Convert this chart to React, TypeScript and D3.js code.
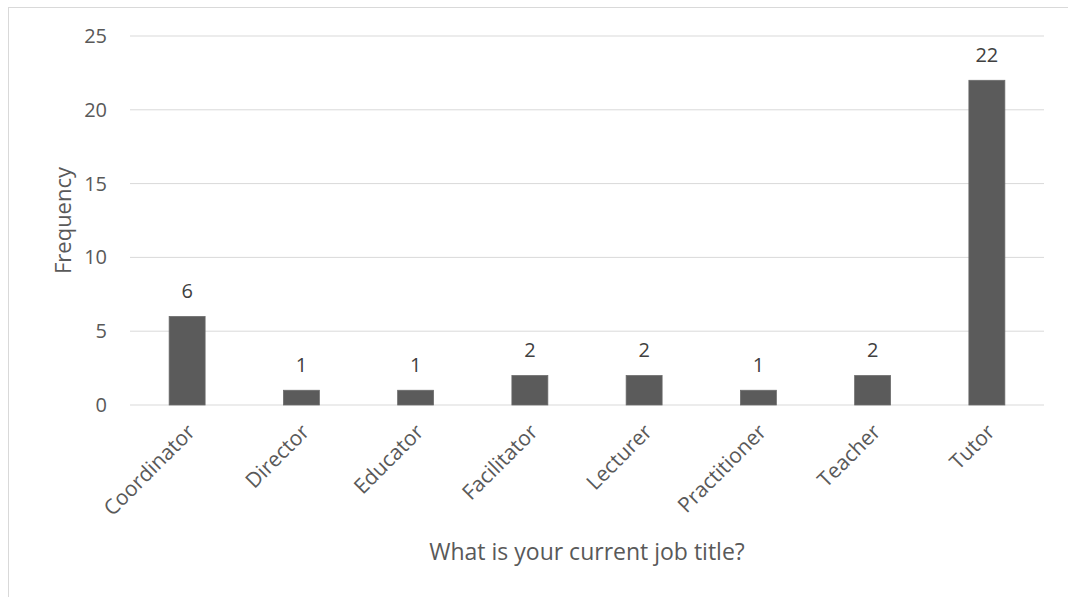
import React from "react";
import * as d3 from "d3";

const categories = ["Coordinator", "Director", "Educator", "Facilitator", "Lecturer", "Practitioner", "Teacher", "Tutor"];
const frequencies = [6, 1, 1, 2, 2, 1, 2, 22];
const yTicks = [0, 5, 10, 15, 20, 25];

const W = 1068;
const H = 597;
const margin = { left: 130, right: 24, top: 36, bottom: 192 };
const FONT = "'Open Sans', 'Noto Sans', sans-serif";

export default function App() {
  const x = d3
    .scaleBand<string>()
    .domain(categories)
    .range([margin.left, W - margin.right])
    .paddingInner(0.685)
    .paddingOuter(0.3425);
  const y = d3.scaleLinear().domain([0, 25]).range([H - margin.bottom, margin.top]);
  const y0 = y(0);
  const bw = x.bandwidth();

  return (
    <svg width={W} height={H} style={{ position: "absolute", left: 0, top: 0, fontFamily: FONT }}>
      <rect x={8.5} y={7.5} width={W + 10} height={H + 10} fill="#fff" stroke="#d9d9d9" strokeWidth={1} />
      {yTicks.map((t) => (
        <g key={t}>
          <line x1={margin.left} x2={W - margin.right} y1={y(t)} y2={y(t)} stroke="#d9d9d9" strokeWidth={1} />
          <text x={107} y={y(t)} dy="0.35em" textAnchor="end" fontSize={20} fill="#595959">
            {t}
          </text>
        </g>
      ))}
      {categories.map((c, i) => {
        const v = frequencies[i];
        const bx = x(c)!;
        const cx = bx + bw / 2;
        return (
          <g key={c}>
            <rect x={bx} y={y(v)} width={bw} height={y0 - y(v)} fill="#5b5b5b" stroke="#6b6b6b" strokeWidth={0.75} />
            <text x={cx} y={y(v) - 25} dy="0.35em" textAnchor="middle" fontSize={20} fill="#404040">
              {v}
            </text>
            <text
              transform={`translate(${cx - 2},${y0 + 17}) rotate(-45)`}
              textAnchor="end"
              dy="0.75em"
              fontSize={21}
              fill="#595959"
            >
              {c}
            </text>
          </g>
        );
      })}
      <text
        transform={`translate(63,${(y(0) + y(25)) / 2}) rotate(-90)`}
        textAnchor="middle"
        dy="0.35em"
        fontSize={22}
        fill="#595959"
      >
        Frequency
      </text>
      <text x={587} y={560} textAnchor="middle" fontSize={23} fill="#595959">
        What is your current job title?
      </text>
    </svg>
  );
}
